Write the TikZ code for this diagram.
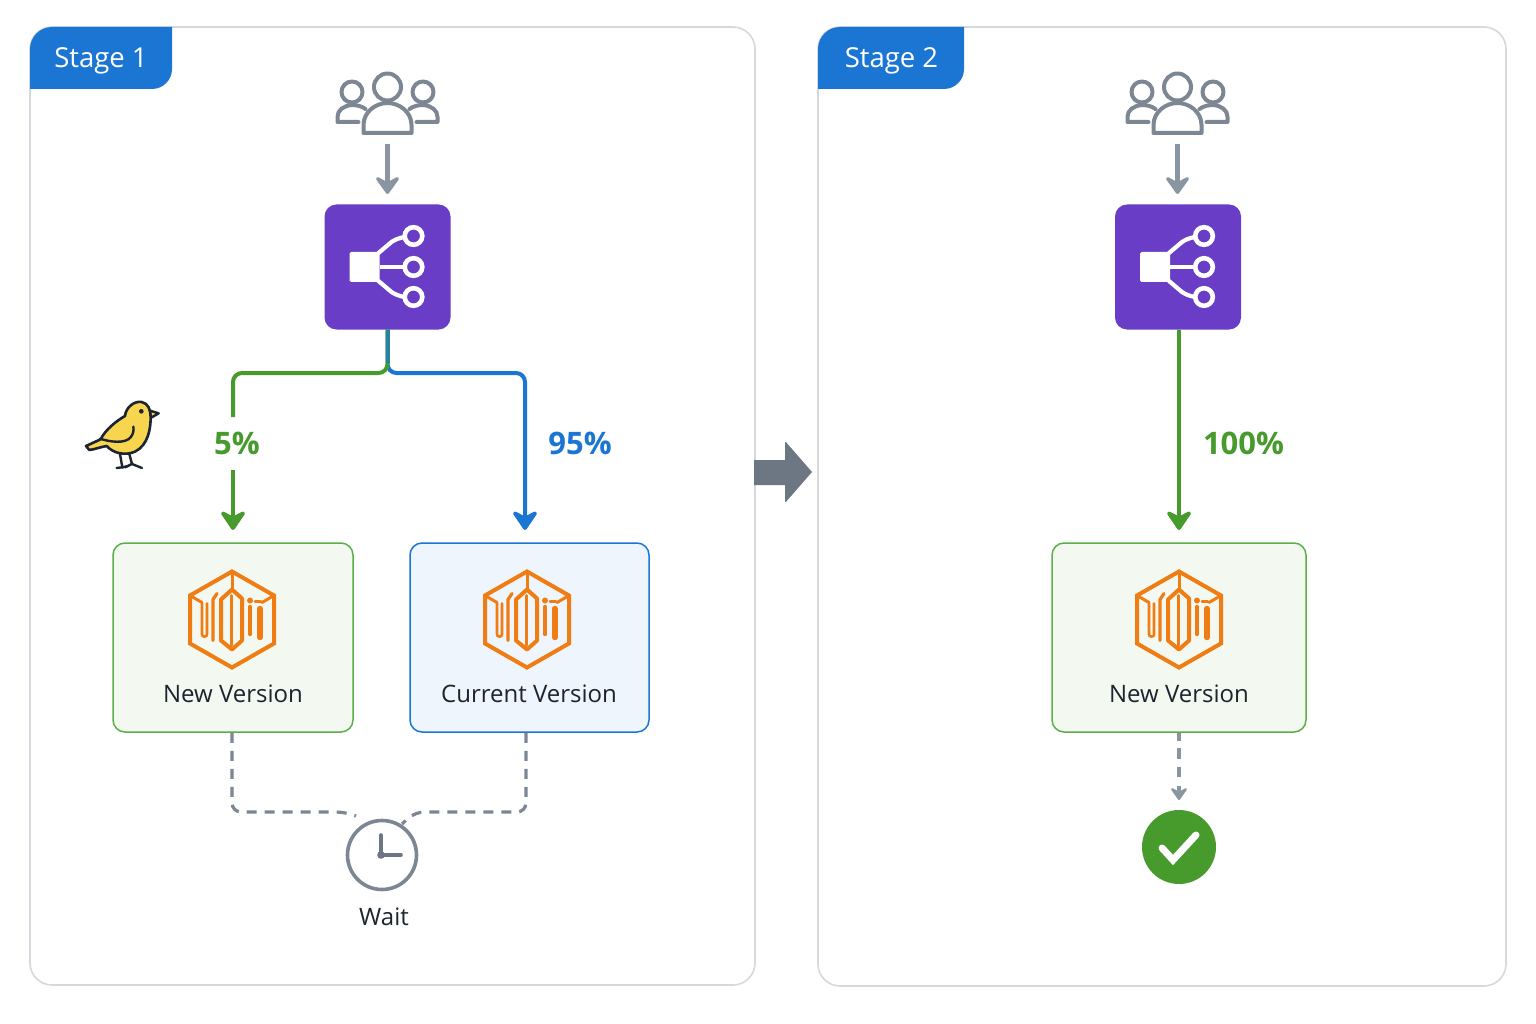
\documentclass[tikz,border=0pt]{standalone}
\usepackage{fontspec}
\setmainfont{Open Sans}
\usetikzlibrary{arrows.meta,calc,positioning}
\definecolor{tabblue}{HTML}{1B76D3}
\definecolor{routerpurple}{HTML}{693DC6}
\definecolor{okgreen}{HTML}{479A2C}
\definecolor{boxgreen}{HTML}{F3F9F0}
\definecolor{boxgreenline}{HTML}{5BAF4A}
\definecolor{boxblue}{HTML}{EEF5FD}
\definecolor{slate}{HTML}{7D8794}
\definecolor{slatedark}{HTML}{6D7784}
\definecolor{arrowgrey}{HTML}{8A95A2}
\definecolor{frameline}{HTML}{D5D8DC}
\definecolor{inkdark}{HTML}{1B2430}
\definecolor{orangeicon}{HTML}{F07D14}
\definecolor{birdyellow}{HTML}{F7D54E}
\tikzset{
  x=1pt,y=-1pt,
  panel/.style={draw=frameline,line width=1.6pt,fill=white},
  stagetab/.style={fill=tabblue},
  tablabel/.style={text=white,font=\fontsize{27.5}{32}\selectfont},
  boxlabel/.style={text=inkdark,font=\fontsize{24}{28}\selectfont},
  pct/.style={font=\fontsize{31}{36}\selectfont\bfseries},
  versionbox/.style={rounded corners=12pt,line width=1.5pt,inner sep=0pt,minimum height=189pt},
  router/.style={fill=routerpurple,rounded corners=12pt,inner sep=0pt,minimum width=126pt,minimum height=125pt},
  inflow/.style={draw=arrowgrey,line width=4.6pt,-{Stealth[length=21pt,width=30pt,inset=8pt,round]}},
  greenflow/.style={draw=okgreen,line width=4pt,rounded corners=9pt},
  blueflow/.style={draw=tabblue,line width=4pt,rounded corners=9pt},
  flowhead/.style={-{Stealth[length=23pt,width=31pt,inset=8pt,round]}},
  waitline/.style={draw=slate,line width=3.2pt,dash pattern=on 10pt off 8pt,rounded corners=9pt},
  iconline/.style={draw=slate,line width=4pt,line join=round,line cap=round},
  orangeline/.style={draw=orangeicon,line width=4pt,line join=miter},
  orangebar/.style={draw=orangeicon,line width=3pt,line cap=round,line join=round},
  % three-person audience glyph, origin at the centre of the group
  pics/audience/.style={code={
    \draw[iconline] (0,-16) circle[radius=13.5];
    \draw[iconline] (-24,30) -- (-24,22) .. controls (-24,9) and (-12,0) .. (0,0)
       .. controls (12,0) and (24,9) .. (24,22) -- (24,30) -- cycle;
    \draw[iconline] (-35.5,-11) circle[radius=10.5];
    \draw[iconline] (35.5,-11) circle[radius=10.5];
    \draw[iconline] (-29,19) -- (-50,19) -- (-50,14) .. controls (-50,7) and (-44,3) .. (-36,2) .. controls (-31,2) and (-26,3) .. (-22,6);
    \draw[iconline] (29,19) -- (50,19) -- (50,14) .. controls (50,7) and (44,3) .. (36,2) .. controls (31,2) and (26,3) .. (22,6);
  }},
  % traffic-splitter glyph, origin at the router centre
  pics/splitter/.style={code={
    \fill[white,rounded corners=1.5pt] (-38,-15) rectangle (-8,15);
    \draw[white,line width=4.2pt,line cap=round,line join=round]
      (-9,-14) -- (4,-25) .. controls (7,-27) and (11,-29) .. (17,-30);
    \draw[white,line width=4.2pt] (-8,0) -- (17,0);
    \draw[white,line width=4.2pt,line cap=round,line join=round]
      (-9,14) -- (4,25) .. controls (7,27) and (11,29) .. (17,30);
    \draw[white,line width=4.6pt] (26,-31) circle[radius=8.8];
    \draw[white,line width=4.6pt] (26,0) circle[radius=8.8];
    \draw[white,line width=4.6pt] (26,30) circle[radius=8.8];
  }},
  % hexagonal service glyph, origin at the hexagon centre
  pics/service/.style={code={
    \draw[orangeline] (0,-48) -- (42,-24) -- (42,24) -- (0,48) -- (-42,24) -- (-42,-24) -- cycle;
    \draw[orangebar] (-42,-24) -- (-30,-17);
    \draw[orangebar] (0,-48) -- (0,-30);
    \draw[orangebar] (42,-24) -- (30,-17);
    % central column
    \draw[orangebar,line width=4pt] (-11,-20) -- (0,-30) -- (10,-21) -- (10,21) -- (0,30) -- (-11,21) -- cycle;
    \draw[orangebar] (-1,-24) -- (-1,26);
    % left columns
    \draw[orangebar,line width=2.6pt,rounded corners=2pt] (-30,-16) -- (-30,17) -- (-25,17) -- (-25,-16);
    \draw[orangebar,line width=3.2pt] (-15,-26) -- (-19,-20) -- (-19,21);
    % right columns
    \draw[orangebar,line width=3.4pt] (18,-13) -- (18,15);
    \fill[orangeicon] (18,-19) circle[radius=3];
    \draw[orangebar,line width=2.6pt] (23,-18) -- (29,-18);
    \draw[orangebar,line width=5.4pt] (28,-11) -- (28,18);
  }},
}
\begin{document}
\begin{tikzpicture}
\useasboundingbox (0,0) rectangle (1536,1024);
\fill[white] (0,0) rectangle (1536,1024);

% stage frames
\draw[panel,rounded corners=22pt] (30,27) rectangle (755,985);
\draw[panel,rounded corners=22pt] (818,27) rectangle (1506,986);

% stage tabs
\fill[stagetab] (30,89) -- (30,49) arc[start angle=180,end angle=270,radius=22] -- (172,27)
   -- (172,69) arc[start angle=0,end angle=90,radius=20] -- cycle;
\fill[stagetab] (818,89) -- (818,49) arc[start angle=180,end angle=270,radius=22] -- (964,27)
   -- (964,69) arc[start angle=0,end angle=90,radius=20] -- cycle;
\node[tablabel] (tabA) at (101,61) {Stage 1};
\node[tablabel] (tabB) at (891.5,61) {Stage 2};

% users and routers
\node[inner sep=0pt,minimum width=104pt,minimum height=62pt] (usersA) at (387.5,103) {};
\pic at (usersA) {audience};
\node[inner sep=0pt,minimum width=104pt,minimum height=62pt] (usersB) at (1177.5,103) {};
\pic at (usersB) {audience};
\node[router] (routerA) at (387.5,267) {};
\pic at (routerA) {splitter};
\node[router] (routerB) at (1178,267) {};
\pic at (routerB) {splitter};
\coordinate (inA) at (387.5,194);
\coordinate (inB) at (1177.5,194);
\coordinate (inAs) at (387.5,144);
\coordinate (inBs) at (1177.5,144);
\draw[inflow] (inAs) -- (inA);
\draw[inflow] (inBs) -- (inB);

% version boxes
\node[versionbox,draw=boxgreenline,fill=boxgreen,minimum width=240pt] (newA) at (233,637.5) {};
\node[versionbox,draw=tabblue,fill=boxblue,minimum width=239pt] (curA) at (529.5,637.5) {};
\node[versionbox,draw=boxgreenline,fill=boxgreen,minimum width=254pt] (newB) at (1179,637.5) {};
\pic at (232,619.5) {service};
\pic at (527,619.5) {service};
\pic at (1179,619.5) {service};
\node[boxlabel] (lblNewA) at (233,693.5) {New Version};
\node[boxlabel] (lblCurA) at (529,693.5) {Current Version};
\node[boxlabel] (lblNewB) at (1179,693.5) {New Version};

% split traffic, stage 1
\node[pct,text=okgreen] (fiveP) at (237,443.5) {5\%};
\node[pct,text=tabblue] (ninetyfiveP) at (580,443.5) {95\%};
\coordinate (gTurn) at (233,373);
\coordinate (bTurn) at (525,373);
\coordinate (gResume) at (233,470);
\coordinate (gEnd) at (233,530);
\coordinate (bEnd) at (525,530);
\coordinate (gStop) at (233,417);
\draw[blueflow,flowhead] (routerA.south) |- (bTurn) -- (bEnd);
\draw[greenflow] (routerA.south) |- (gTurn) -- (gStop);
\draw[draw=okgreen,line width=4pt,flowhead] (gResume) -- (gEnd);
\draw[draw=tabblue!70!okgreen,line width=4pt] (routerA.south) -- ++(0,33);

% full traffic, stage 2
\coordinate (fullEnd) at (1179,530);
\draw[draw=okgreen,line width=4pt,flowhead] (routerB.south -| fullEnd) -- (fullEnd);
\node[pct,text=okgreen] (hundredP) at (1243.5,443.5) {100\%};

% wait clock
\node[circle,draw=slate,line width=3.6pt,minimum size=69pt,inner sep=0pt] (clock) at (382,855) {};
\draw[draw=slatedark,line width=3.6pt,line cap=round] (381,835) -- (381,855) -- (401,855);
\fill[slatedark] (381,855) circle[radius=3.8];
\node[boxlabel] (waitLbl) at (384,917) {Wait};
\draw[waitline] (newA.south -| 232,0) -- (232,812) -- (345,812) -- (356,816);
\draw[waitline] (curA.south -| 526,0) -- (526,812) -- (415,812) -- (402,824);

% verification
\node[circle,fill=okgreen,minimum size=74pt,inner sep=0pt] (okmark) at (1179,847) {};
\draw[white,line width=7pt,line join=miter,line cap=round] (1162,848) -- (1173,860) -- (1196,835);
\coordinate (vEnd) at (1179,800);
\coordinate (vDashEnd) at (1179,780);
\coordinate (vHead) at (1179,786);
\draw[draw=arrowgrey,line width=3.6pt,dash pattern=on 8pt off 7pt on 11pt off 8pt on 10pt off 8pt] (newB.south) -- (vDashEnd);
\draw[draw=arrowgrey,line width=3.2pt,-{Stealth[length=15pt,width=21pt,inset=6pt,round]}] (vHead) -- (vEnd);

% transition arrow between stages
\fill[slatedark] (754,460) -- (785,460) -- (785,443) [rounded corners=2pt] -- (785,441) [sharp corners] -- (812,472) [rounded corners=2pt] -- (785,503) [sharp corners] -- (785,485) -- (754,485) -- cycle;

% canary
\begin{scope}[shift={(60,380)},x=0.3333pt,y=-0.3333pt]
  \draw[inkdark,line width=2.4pt,line cap=round] (180,222) -- (187,262) -- (170,264);
  \draw[inkdark,line width=2.4pt,line cap=round] (187,262) -- (205,258);
  \draw[inkdark,line width=2.4pt,line cap=round] (208,222) -- (216,252) -- (195,262);
  \draw[inkdark,line width=2.4pt,line cap=round] (216,252) -- (246,264);
  \draw[inkdark,line width=2.4pt,line join=round,fill=birdyellow]
    (270,92) -- (296,100) -- (272,114) -- cycle;
  \draw[inkdark,line width=2.6pt,line join=round,fill=birdyellow]
    (78,198) -- (122,178) .. controls (135,150) and (170,122) .. (195,108)
    .. controls (198,80) and (225,62) .. (245,66)
    .. controls (265,70) and (272,90) .. (272,112)
    .. controls (272,145) and (265,195) .. (225,215)
    .. controls (195,228) and (160,220) .. (140,198)
    .. controls (125,200) and (105,208) .. (88,210) -- cycle;
  \draw[inkdark,line width=2.4pt,line cap=round]
    (120,176) .. controls (150,186) and (195,192) .. (212,172) .. controls (220,162) and (222,150) .. (220,140);
  \fill[inkdark] (244,94) circle[radius=7];
\end{scope}
\end{tikzpicture}
\end{document}
